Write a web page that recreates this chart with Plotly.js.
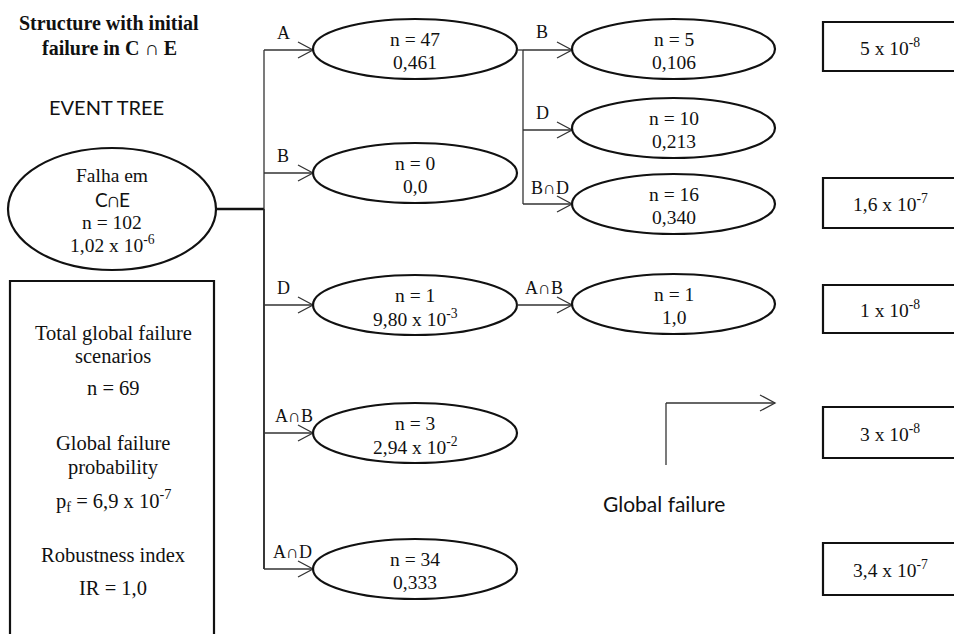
<!DOCTYPE html>
<html>
<head>
<meta charset="utf-8">
<script src="https://cdn.plot.ly/plotly-3.0.1.min.js"></script>
<style>html,body{margin:0;padding:0;background:#fff;}#chart{width:954px;height:634px;}</style>
</head>
<body>
<div id="chart"></div>
<script>
// ---------- DATA ----------
const titleLines = ['Structure with initial', 'failure in C ∩ E'];
const diagramName = 'EVENT TREE';
const rootLabel = ['Falha em', 'C∩E'];
const rootN = 102;
const rootProb = '1,02 x 10<sup>-6</sup>';
const level1Branches = ['A', 'B', 'D', 'A∩B', 'A∩D'];
const level1N = [47, 0, 1, 3, 34];
const level1Prob = ['0,461', '0,0', '9,80 x 10<sup>-3</sup>', '2,94 x 10<sup>-2</sup>', '0,333'];
const level2Parent = [0, 0, 0, 2];            // index into level1
const level2Branches = ['B', 'D', 'B∩D', 'A∩B'];
const level2N = [5, 10, 16, 1];
const level2Prob = ['0,106', '0,213', '0,340', '1,0'];
const globalFailureProb = ['5 x 10<sup>-8</sup>', '1,6 x 10<sup>-7</sup>', '1 x 10<sup>-8</sup>', '3 x 10<sup>-8</sup>', '3,4 x 10<sup>-7</sup>'];
const summaryLabels = ['Total global failure', 'scenarios', 'Global failure', 'probability', 'Robustness index'];
const summaryValues = ['n = 69', 'p<sub>f</sub> = 6,9 x 10<sup>-7</sup>', 'IR = 1,0'];
const legendLabel = 'Global failure';

// ---------- GEOMETRY (layout only) ----------
const G = {
  root: {cx: 112, cy: 209, rx: 104, ry: 61},
  trunkX: 264,
  l1: {x0: 313, x1: 517, ry: 30, cy: [49, 173, 305, 433, 569]},
  subTrunkX: 523,
  l2: {x0: 572, x1: 775, ry: 30, cy: [49, 128, 204, 304]},
  l2Arrow: [50, 130, 204, 305],
  l1LabelPos: [[283, 33], [283, 156], [283, 288], [294, 416], [292, 552]],
  l2LabelPos: [[542, 32], [542, 113], [550, 188], [544, 288]],
  boxes: {x0: 823, x1: 962, y: [[22, 71], [178, 228], [285, 333], [407, 458], [543, 595]]},
  boxTextX: 890,
  summaryBox: {x0: 10, x1: 214, y0: 281, y1: 660},
  summaryX: 113,
  summaryLabelY: [333, 356, 443, 467, 555],
  summaryValueY: [388, 500, 588]
};

const SERIF = 'Liberation Serif, Times New Roman, serif';
const SANS = 'Lato, Open Sans, sans-serif';
const INK = '#111';
const BODY = 19.5;

const shapes = [];
const annotations = [];

function txt(x, y, t, size, family, extra) {
  annotations.push(Object.assign({
    x: x, y: y, xref: 'x', yref: 'y', text: String(t), showarrow: false,
    xanchor: 'center', yanchor: 'middle',
    font: {family: family || SERIF, size: size || BODY, color: INK}
  }, extra || {}));
}
function line(x0, y0, x1, y1, w, c) {
  shapes.push({type: 'line', xref: 'x', yref: 'y', x0: x0, y0: y0, x1: x1, y1: y1,
    line: {color: c || '#333', width: w || 1.3}});
}
function vhead(tipX, y) {
  shapes.push({type: 'path', xref: 'x', yref: 'y',
    path: `M ${tipX - 15},${y - 8} L ${tipX},${y} L ${tipX - 15},${y + 8}`,
    line: {color: '#333', width: 1.3}});
}
function ellipse(cx, cy, x0, x1, ry) {
  shapes.push({type: 'circle', xref: 'x', yref: 'y', x0: x0, x1: x1, y0: cy - ry, y1: cy + ry,
    line: {color: INK, width: 2.2}, fillcolor: 'rgba(0,0,0,0)'});
}

// Title & heading
txt(109, 23, '<b>' + titleLines[0] + '</b>', 20, SERIF);
txt(109, 48, '<b>' + titleLines[1] + '</b>', 20, SERIF);
txt(106, 107, diagramName, 20, SANS);

// Root node
ellipse(G.root.cx, G.root.cy, G.root.cx - G.root.rx, G.root.cx + G.root.rx, G.root.ry);
txt(G.root.cx, 175, rootLabel[0]);
txt(G.root.cx, 199, rootLabel[1], 19, SANS);
txt(G.root.cx, 222, 'n = ' + rootN);
txt(G.root.cx, 244, rootProb);
line(G.root.cx + G.root.rx, G.root.cy, G.trunkX, G.root.cy, 2.5, '#111');

// Trunk
const l1ArrowY = G.l1.cy.map((c, i) => i === 0 ? 50 : c);
line(G.trunkX, l1ArrowY[0], G.trunkX, G.root.cy, 1.3, '#333');
line(G.trunkX, G.root.cy, G.trunkX, l1ArrowY[l1ArrowY.length - 1], 1.8, '#222');

// Level 1
level1Branches.forEach((b, i) => {
  const y = l1ArrowY[i];
  line(G.trunkX, y, G.l1.x0, y);
  vhead(G.l1.x0, y);
  txt(G.l1LabelPos[i][0], G.l1LabelPos[i][1], b, 18, SERIF);
  const cx = (G.l1.x0 + G.l1.x1) / 2;
  ellipse(cx, G.l1.cy[i], G.l1.x0, G.l1.x1, G.l1.ry);
  txt(cx, G.l1.cy[i] - 10, 'n = ' + level1N[i]);
  txt(cx, G.l1.cy[i] + 13, level1Prob[i]);
});

// Level 2
const childrenOfA = level2Parent.map((p, i) => p === 0 ? i : -1).filter(i => i >= 0);
const lastA = childrenOfA[childrenOfA.length - 1];
line(G.l1.x1, G.l2Arrow[0], G.subTrunkX, G.l2Arrow[0]);
line(G.subTrunkX, G.l2Arrow[0], G.subTrunkX, G.l2Arrow[lastA]);
level2Branches.forEach((b, i) => {
  const y = G.l2Arrow[i];
  const startX = level2Parent[i] === 0 ? G.subTrunkX : G.l1.x1;
  line(startX, y, G.l2.x0, y);
  vhead(G.l2.x0, y);
  txt(G.l2LabelPos[i][0], G.l2LabelPos[i][1], b, 18, SERIF);
  const cx = (G.l2.x0 + G.l2.x1) / 2;
  ellipse(cx, G.l2.cy[i], G.l2.x0, G.l2.x1, G.l2.ry);
  txt(cx, G.l2.cy[i] - 10, 'n = ' + level2N[i]);
  txt(cx, G.l2.cy[i] + 13, level2Prob[i]);
});

// Global failure boxes
globalFailureProb.forEach((p, i) => {
  const [y0, y1] = G.boxes.y[i];
  shapes.push({type: 'rect', xref: 'x', yref: 'y', x0: G.boxes.x0, x1: G.boxes.x1, y0: y0, y1: y1,
    line: {color: INK, width: 2.2}, fillcolor: 'rgba(0,0,0,0)'});
  txt(G.boxTextX, (y0 + y1) / 2, p, 19.5, SERIF);
});

// Legend arrow
line(666, 465, 666, 403);
line(666, 403, 775, 403);
vhead(775, 403);
txt(664, 503, legendLabel, 21, SANS);

// Summary box
shapes.push({type: 'rect', xref: 'x', yref: 'y', x0: G.summaryBox.x0, x1: G.summaryBox.x1,
  y0: G.summaryBox.y0, y1: G.summaryBox.y1, line: {color: INK, width: 2.2}, fillcolor: 'rgba(0,0,0,0)'});
summaryLabels.forEach((l, i) => txt(G.summaryX, G.summaryLabelY[i], l, 20.5, SERIF));
summaryValues.forEach((v, i) => txt(G.summaryX, G.summaryValueY[i], v, 20.5, SERIF));

const layout = {
  width: 954, height: 634,
  margin: {l: 0, r: 0, t: 0, b: 0, pad: 0},
  paper_bgcolor: '#fff', plot_bgcolor: '#fff',
  showlegend: false,
  xaxis: {range: [0, 954], visible: false, fixedrange: true},
  yaxis: {range: [634, 0], visible: false, fixedrange: true},
  shapes: shapes,
  annotations: annotations
};

Plotly.newPlot('chart', [], layout, {staticPlot: true, displayModeBar: false});
</script>
</body>
</html>
